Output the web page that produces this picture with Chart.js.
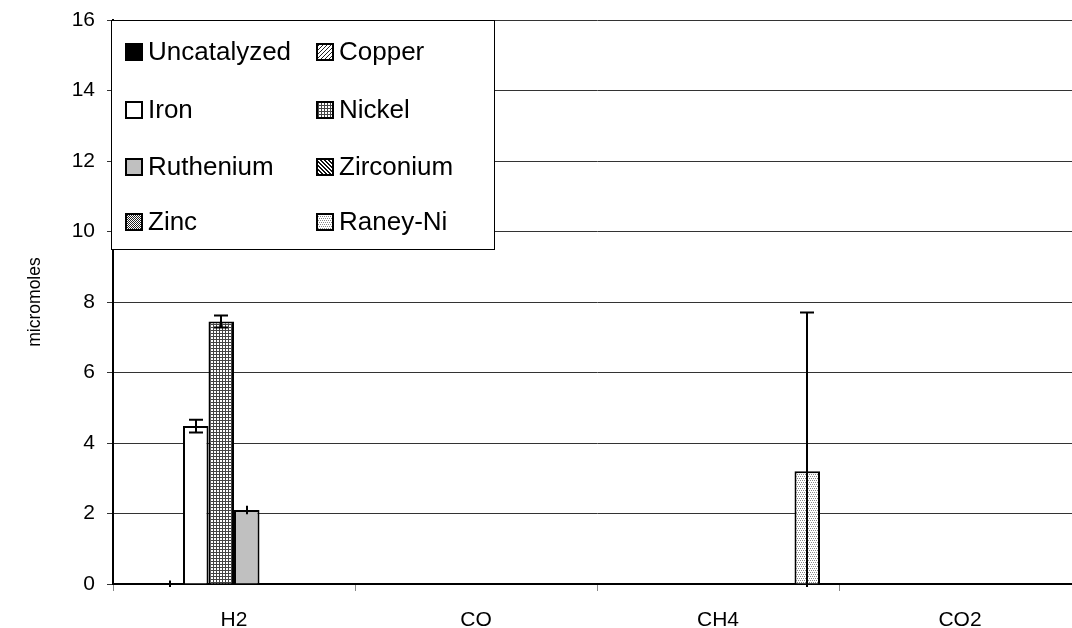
<!DOCTYPE html>
<html>
<head>
<meta charset="utf-8">
<script src="https://cdn.jsdelivr.net/npm/chart.js@4/dist/chart.umd.min.js"></script>
<style>
  html, body { margin: 0; padding: 0; background: #fff; overflow: hidden; }
  #wrap { width: 1081px; height: 628px; }
</style>
</head>
<body>
<div id="wrap"><canvas id="c" width="1081" height="628"></canvas></div>
<script>
// Gas products per catalyst (micromoles) with standard-deviation error bars
const categories = ['H2', 'CO', 'CH4', 'CO2'];
const seriesNames = ['Uncatalyzed', 'Copper', 'Iron', 'Nickel', 'Ruthenium', 'Zirconium', 'Zinc', 'Raney-Ni'];

const uncatalyzed = [0, 0, 0, 0];
const copper      = [0, 0, 0, 0];
const iron        = [4.48, 0, 0, 0];
const nickel      = [7.45, 0, 0, 0];
const ruthenium   = [2.1, 0, 0, 0];
const zirconium   = [0, 0, 0, 0];
const zinc        = [0, 0, 0, 0];
const raneyNi     = [0, 0, 3.2, 0];

const uncatalyzedErr = [0, 0, 0, 0];
const copperErr      = [0.1, 0, 0, 0];
const ironErr        = [0.18, 0, 0, 0];
const nickelErr      = [0.17, 0, 0, 0];
const rutheniumErr   = [0.12, 0, 0, 0];
const zirconiumErr   = [0, 0, 0, 0];
const zincErr        = [0, 0, 0, 0];
const raneyNiErr     = [0, 0, 4.5, 0];

const yTicks = { min: 0, max: 16, step: 2 };

// Small tiled fills for the hatched series
function tile(size, paint) {
  const c = document.createElement('canvas');
  c.width = size; c.height = size;
  const g = c.getContext('2d');
  g.fillStyle = '#fff';
  g.fillRect(0, 0, size, size);
  paint(g);
  return document.getElementById('c').getContext('2d').createPattern(c, 'repeat');
}
function px(g, col, pts) { g.fillStyle = col; pts.forEach(p => g.fillRect(p[0], p[1], 1, 1)); }

const fills = [
  '#000000',
  // copper: fine diagonal lines
  tile(4, g => px(g, '#222', [[3,0],[2,1],[1,2],[0,3]])),
  '#ffffff',
  // nickel: fine grid
  tile(3, g => { g.fillStyle = '#444'; g.fillRect(0, 0, 3, 1); g.fillRect(0, 0, 1, 3); }),
  '#c0c0c0',
  // zirconium: dense diagonal
  tile(4, g => px(g, '#111', [[0,0],[1,1],[2,2],[3,3],[1,0],[2,1],[3,2],[0,3]])),
  // zinc: dark checker
  tile(2, g => px(g, '#222', [[0,0],[1,1]])),
  // raney-ni: light dots
  tile(4, g => px(g, '#888', [[0,0],[2,0],[1,2],[3,2]]))
];

const values = [uncatalyzed, copper, iron, nickel, ruthenium, zirconium, zinc, raneyNi];
const errors = [uncatalyzedErr, copperErr, ironErr, nickelErr, rutheniumErr, zirconiumErr, zincErr, raneyNiErr];

const FONT = '"Liberation Sans", Arial, sans-serif';

const datasets = seriesNames.map((name, i) => ({
  label: name,
  data: values[i],
  err: errors[i],
  backgroundColor: fills[i],
  borderColor: '#000',
  borderWidth: 2,
  borderSkipped: 'start',
  barPercentage: 1.0,
  categoryPercentage: 0.843
}));

// Vertical error bars with caps, clipped just below the plot area
const errorBars = {
  id: 'errorBars',
  afterDatasetsDraw(chart) {
    const ctx = chart.ctx, y = chart.scales.y, area = chart.chartArea;
    ctx.save();
    ctx.beginPath();
    ctx.rect(area.left, area.top, area.right - area.left, area.bottom - area.top + 3);
    ctx.clip();
    ctx.strokeStyle = '#000';
    ctx.lineWidth = 2;
    chart.data.datasets.forEach((ds, i) => {
      const meta = chart.getDatasetMeta(i);
      ds.err.forEach((e, j) => {
        if (!e) return;
        const x = Math.round(meta.data[j].x);
        const v = ds.data[j];
        const yt = y.getPixelForValue(v + e);
        const yb = y.getPixelForValue(v - e);
        const cap = e > 0.15 ? 7 : 0;
        ctx.beginPath();
        ctx.moveTo(x, yt); ctx.lineTo(x, yb);
        if (cap) {
          ctx.moveTo(x - cap, yt); ctx.lineTo(x + cap, yt);
          ctx.moveTo(x - cap, yb); ctx.lineTo(x + cap, yb);
        }
        ctx.stroke();
      });
    });
    ctx.restore();
  }
};

// Two-column legend boxed inside the upper left of the plot
const boxLegend = {
  id: 'boxLegend',
  afterDraw(chart) {
    const ctx = chart.ctx;
    const bx = 111, by = 20, bw = 384, bh = 230;
    ctx.save();
    ctx.fillStyle = '#fff';
    ctx.fillRect(bx, by, bw, bh);
    ctx.strokeStyle = '#000';
    ctx.lineWidth = 1;
    ctx.strokeRect(bx + 0.5, by + 0.5, bw - 1, bh - 1);
    const colX = [125, 316];
    const rowY = [52, 110, 167, 222];
    ctx.font = '26px ' + FONT;
    ctx.textBaseline = 'middle';
    chart.data.datasets.forEach((ds, i) => {
      const sx = colX[i % 2], sy = rowY[Math.floor(i / 2)];
      ctx.fillStyle = ds.backgroundColor;
      ctx.fillRect(sx, sy - 9, 18, 18);
      ctx.lineWidth = 2;
      ctx.strokeStyle = '#000';
      ctx.strokeRect(sx + 1, sy - 8, 16, 16);
      ctx.fillStyle = '#000';
      ctx.fillText(ds.label, sx + 23, sy + 1);
    });
    ctx.restore();
  }
};

new Chart(document.getElementById('c'), {
  type: 'bar',
  data: { labels: categories, datasets },
  plugins: [errorBars, boxLegend],
  options: {
    responsive: false,
    devicePixelRatio: 1,
    animation: false,
    layout: { padding: { left: 0, top: 20, right: 0, bottom: 0 } },
    plugins: { legend: { display: false }, tooltip: { enabled: false } },
    scales: {
      x: {
        grid: { offset: true, drawOnChartArea: false, drawTicks: true, tickLength: 7, color: '#888', lineWidth: 1 },
        border: { color: '#000', width: 2 },
        ticks: { color: '#000', font: { family: FONT, size: 21 }, padding: 17, maxRotation: 0 },
        afterFit(s) { s.height = 44; s.paddingLeft = 0; s.paddingRight = 0; }
      },
      y: {
        min: yTicks.min, max: yTicks.max,
        ticks: { stepSize: yTicks.step, color: '#000', font: { family: FONT, size: 21 }, padding: 12 },
        grid: { color: '#333', lineWidth: 1, tickLength: 6, drawTicks: true },
        border: { color: '#000', width: 2 },
        title: { display: true, text: 'micromoles', color: '#000', font: { family: FONT, size: 17.5 }, padding: { top: 25, bottom: 0 } },
        afterFit(s) { s.width = 113; s.paddingTop = 0; s.paddingBottom = 0; }
      }
    }
  }
});
</script>
</body>
</html>
